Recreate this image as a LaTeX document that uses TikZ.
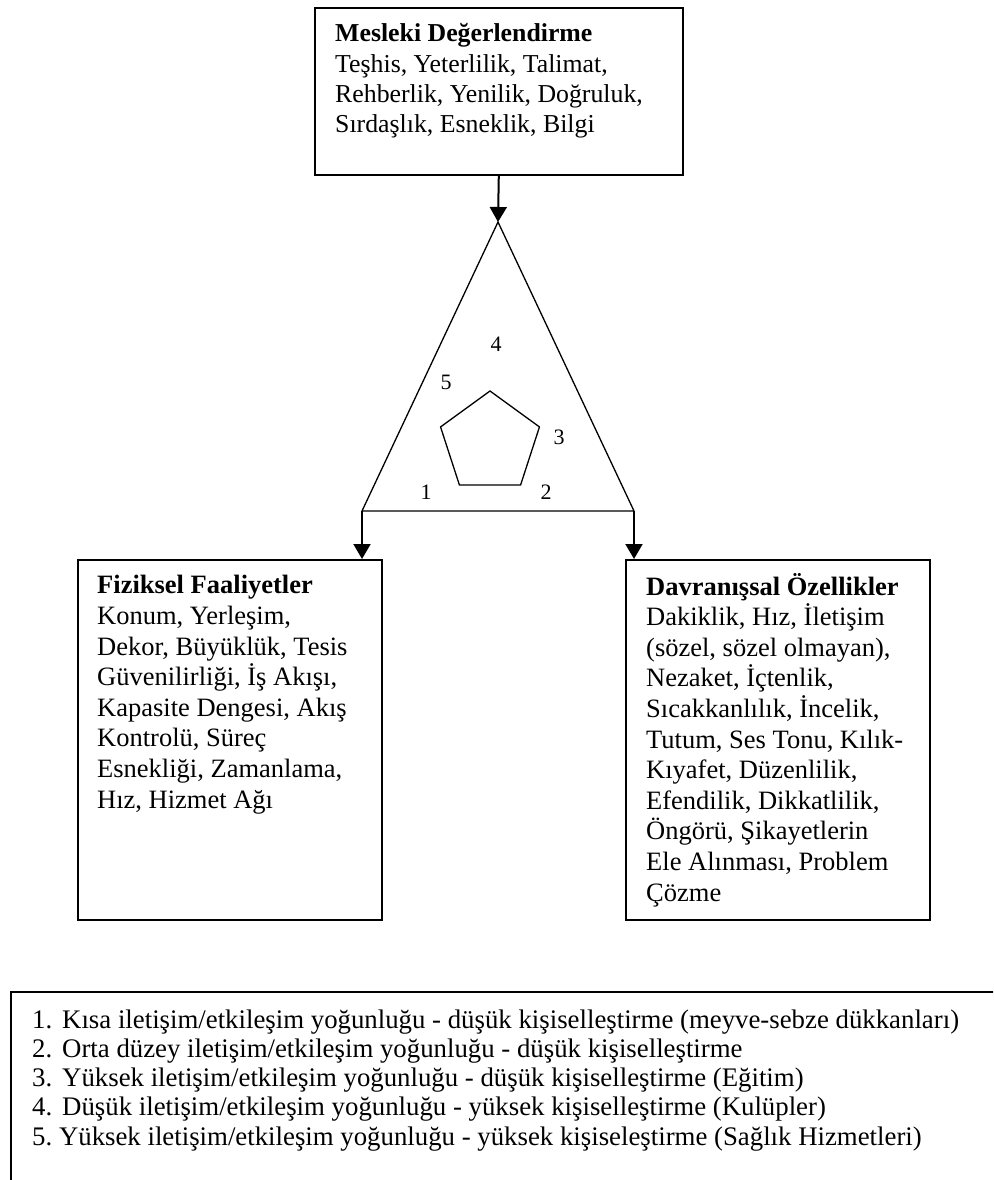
\documentclass[tikz,border=0pt]{standalone}
\usepackage{fontspec}
\setmainfont{Liberation Serif}
\frenchspacing
\usetikzlibrary{arrows.meta,shapes.geometric}

\begin{document}
\begin{tikzpicture}[x=1pt,y=-1pt,
  frame/.style={draw, line width=1.6pt, inner sep=0pt, anchor=north west},
  % multi-line text is placed by the baseline of its last line
  boxtext/.style={anchor=base west, align=left, inner sep=0pt,
    font=\fontsize{26.5}{30.6}\selectfont},
  edge/.style={line width=1.3pt, line join=miter},
  link/.style={line width=2pt, -{Triangle[width=17pt,length=15pt]}},
  num/.style={inner sep=0pt, font=\fontsize{22}{26}\selectfont},
]
\useasboundingbox (0,0) rectangle (993,1180);
\clip (0,0) rectangle (993,1180);

% top box
\node[frame, minimum width=368pt, minimum height=167pt] (top) at (314,7) {};
\node[boxtext, font=\fontsize{25.8}{30}\selectfont] (toptext) at (335,132)
  {\textbf{Mesleki Değerlendirme}\\Teşhis, Yeterlilik, Talimat,\\Rehberlik, Yenilik, Doğruluk,\\Sırdaşlık, Esneklik, Bilgi};

% triangle with the pentagon inside
\coordinate (apex) at (498,222);
\coordinate (bl) at (362,511);
\coordinate (br) at (634,511);
\draw[edge] (apex) -- (bl) -- (br) -- cycle;
\node[regular polygon, regular polygon sides=5, draw, line width=1.3pt,
      minimum size=104pt, inner sep=0pt] (penta) at (490,443) {};

\node[num] (n4) at (496,344) {4};
\node[num] (n5) at (446,382) {5};
\node[num] (n3) at (559,437) {3};
\node[num] (n1) at (426,492) {1};
\node[num] (n2) at (546,492) {2};

% lower boxes
\node[frame, minimum width=304pt, minimum height=360pt] (fiz) at (77,559) {};
\node[boxtext] (fiztext) at (97,808)
  {\textbf{Fiziksel Faaliyetler}\\Konum, Yerleşim,\\Dekor, Büyüklük, Tesis\\Güvenilirliği, İş Akışı,\\Kapasite Dengesi, Akış\\Kontrolü, Süreç\\Esnekliği, Zamanlama,\\Hız, Hizmet Ağı};

\node[frame, minimum width=304pt, minimum height=360pt] (dav) at (625,559) {};
\node[boxtext] (davtext) at (646,901)
  {\textbf{Davranışsal Özellikler}\\Dakiklik, Hız, İletişim\\(sözel, sözel olmayan),\\Nezaket, İçtenlik,\\Sıcakkanlılık, İncelik,\\Tutum, Ses Tonu, Kılık-\\Kıyafet, Düzenlilik,\\Efendilik, Dikkatlilik,\\Öngörü, Şikayetlerin\\Ele Alınması, Problem\\Çözme};

% connectors
\draw[link] (top.south) -- (apex);
\draw[link] (bl) -- (bl |- fiz.north);
\draw[link] (br) -- (br |- dav.north);

% legend
\node[frame, minimum width=1000pt, minimum height=250pt] (legend) at (10,991) {};
\node[anchor=base west, align=left, inner sep=0pt,
      font=\fontsize{26.8}{29.2}\selectfont] (legendtext) at (32,1145)
  {\makebox[30pt][l]{1.}Kısa iletişim/etkileşim yoğunluğu - düşük kişiselleştirme (meyve-sebze dükkanları)\\
   \makebox[30pt][l]{2.}Orta düzey iletişim/etkileşim yoğunluğu - düşük kişiselleştirme\\
   \makebox[30pt][l]{3.}Yüksek iletişim/etkileşim yoğunluğu - düşük kişiselleştirme (Eğitim)\\
   \makebox[30pt][l]{4.}Düşük iletişim/etkileşim yoğunluğu - yüksek kişiselleştirme (Kulüpler)\\
   5. Yüksek iletişim/etkileşim yoğunluğu - yüksek kişiseleştirme (Sağlık Hizmetleri)};
\end{tikzpicture}
\end{document}
